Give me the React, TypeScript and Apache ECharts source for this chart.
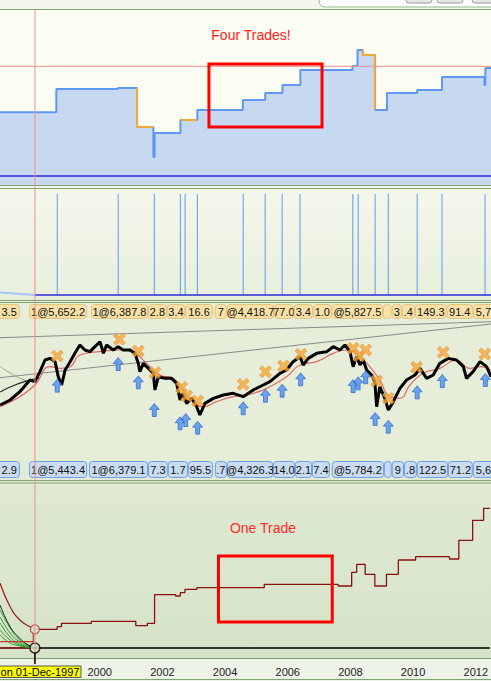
import { useEffect, useRef } from 'react';
import * as echarts from 'echarts';

const X_MIN = 1996.817;
const X_MAX = 2012.45;
const CURSOR_YEAR = 1997.93;
const YEAR_TICKS = [2000, 2002, 2004, 2006, 2008, 2010, 2012];
const FONT = '"Liberation Sans", Arial, sans-serif';
const W = 491;

// Panel 1: equity of the "four trades" system (step line)
const topYears = [1996.817, 1998.61, 2000.57, 2001.18, 2001.70, 2001.74, 2002.56, 2003.10, 2004.55, 2005.26, 2005.81, 2006.38, 2008.04, 2008.20, 2008.37, 2008.76, 2009.14, 2010.10, 2010.89, 2012.24, 2012.27, 2012.45];
const topValues = [72.7, 96, 97, 58, 28, 52, 65, 75, 85, 92, 100, 115, 119, 135, 130, 75, 92, 95, 108, 100, 117, 117];
const orangeSeg1Years = [2001.18, 2001.69];
const orangeSeg1Values = [97, 58];
const orangeSeg2Years = [2002.58, 2003.09];
const orangeSeg2Values = [65, 65];
const orangeSeg3Years = [2008.37, 2008.75, 2008.75];
const orangeSeg3Values = [135, 130, 75];
const topRedLevel = 118.7;
const topBlueLevel = 9;
const topBoxYears = [2003.47, 2007.07];
const topBoxValues = [121, 58];

// Panel 2: trade signal bars
const tradeYears = [1998.64, 2000.58, 2001.73, 2002.56, 2002.71, 2003.10, 2004.56, 2005.26, 2005.80, 2006.37, 2008.05, 2008.22, 2008.76, 2009.18, 2010.10, 2010.89, 2012.26];
const tradeBarHeight = 101;

// Label strips
const orangeLabels = ['3.5', '1@5,652.2', '1@6,387.8', '2.8', '3.4', '16.6', '7', '@4,418.7', '77.0', '3.4', '1.0', '@5,827.5', '', '3', '.4', '149.3', '91.4', '5,7'];
const orangeStarts = [1996.56, 1997.74, 1999.71, 2001.53, 2002.13, 2002.71, 2003.66, 2004.04, 2005.54, 2006.17, 2006.78, 2007.38, 2009.01, 2009.29, 2009.61, 2010.03, 2011.04, 2011.87];
const orangeEnds = [1997.45, 1999.59, 2001.53, 2002.13, 2002.71, 2003.60, 2004.04, 2005.54, 2006.17, 2006.78, 2007.38, 2009.01, 2009.29, 2009.61, 2010.03, 2011.04, 2011.87, 2012.73];
const blueLabels = ['2.9', '1@5,443.4', '1@6,379.1', '7.3', '1.7', '95.5', '.7', '@4,326.3', '14.0', '2.1', '7.4', '@5,784.2', '', '9', '.8', '122.5', '71.2', '5,6'];
const blueStarts = [1996.56, 1997.74, 1999.65, 2001.53, 2002.16, 2002.80, 2003.66, 2004.04, 2005.51, 2006.21, 2006.75, 2007.38, 2009.04, 2009.29, 2009.68, 2010.09, 2011.08, 2011.87];
const blueEnds = [1997.45, 1999.59, 2001.53, 2002.16, 2002.80, 2003.60, 2004.04, 2005.51, 2006.21, 2006.75, 2007.32, 2009.04, 2009.29, 2009.68, 2010.09, 2011.08, 2011.87, 2012.73];

// Panel 3: price
const priceYears = [1996.82, 1997.14, 1997.45, 1997.77, 1997.93, 1998.09, 1998.25, 1998.41, 1998.57, 1998.67, 1998.78, 1998.89, 1999.05, 1999.20, 1999.36, 1999.52, 1999.68, 1999.84, 2000.00, 2000.11, 2000.21, 2000.42, 2000.58, 2000.74, 2000.96, 2001.11, 2001.22, 2001.27, 2001.38, 2001.54, 2001.70, 2001.75, 2001.86, 2002.07, 2002.28, 2002.44, 2002.55, 2002.63, 2002.76, 2002.92, 2003.08, 2003.18, 2003.34, 2003.61, 2003.93, 2004.24, 2004.56, 2004.88, 2005.20, 2005.41, 2005.73, 2005.94, 2006.15, 2006.37, 2006.47, 2006.63, 2006.90, 2007.22, 2007.43, 2007.64, 2007.80, 2007.96, 2008.06, 2008.17, 2008.28, 2008.38, 2008.49, 2008.65, 2008.75, 2008.81, 2008.91, 2009.07, 2009.18, 2009.34, 2009.55, 2009.76, 2010.03, 2010.19, 2010.40, 2010.61, 2010.82, 2011.09, 2011.35, 2011.57, 2011.67, 2011.88, 2012.10, 2012.31, 2012.45];
const priceValues = [3791, 4037, 4446, 5019, 4937, 5428, 6001, 6082, 5919, 5182, 4773, 5510, 5919, 6328, 6737, 6492, 6410, 6655, 6900, 6328, 6737, 6492, 6655, 6492, 6492, 6328, 5837, 5428, 5837, 5591, 5346, 4528, 5182, 5100, 5100, 4855, 4037, 4364, 3873, 4118, 3709, 3300, 3873, 4118, 4282, 4364, 4200, 4528, 4773, 4937, 5346, 5510, 5919, 6164, 5755, 6082, 6328, 6410, 6655, 6492, 6737, 6410, 5673, 6164, 5755, 6001, 5510, 5264, 4937, 3709, 4691, 4118, 3546, 3955, 4609, 5019, 5264, 5591, 5100, 5264, 5837, 6082, 6001, 5673, 5100, 5428, 5919, 5673, 5182];
const maYears = [1996.82, 1997.45, 1997.93, 1998.41, 1998.73, 1999.05, 1999.36, 2000.00, 2000.64, 2001.11, 2001.43, 2001.91, 2002.33, 2002.60, 2002.97, 2003.29, 2003.71, 2004.24, 2004.88, 2005.31, 2005.94, 2006.37, 2006.90, 2007.43, 2007.85, 2008.28, 2008.59, 2008.91, 2009.23, 2009.55, 2009.87, 2010.29, 2010.82, 2011.35, 2011.78, 2012.10, 2012.45];
const maValues = [3709, 4200, 4773, 5673, 5591, 5673, 6246, 6410, 6492, 6328, 5919, 5264, 5100, 4609, 3955, 3709, 3955, 4200, 4364, 4609, 5182, 5755, 5919, 6328, 6492, 6164, 5673, 5019, 4200, 4118, 4773, 5346, 5591, 6001, 5591, 5673, 5510];
const trendUpperYears = [X_MIN, X_MAX];
const trendUpperValues = [7095, 7881];
const trendLowerYears = [X_MIN, X_MAX];
const trendLowerValues = [5131, 7768];
const earlyBlackYears = [1996.82, 1997.29, 1997.77, 1998.09];
const earlyBlackValues = [4429, 4773, 5019, 5117];
const earlyGreenYears = [1996.82, 1997.45, 1997.77];
const earlyGreenValues = [5671, 5102, 4937];
const exitYears = [1998.64, 2000.62, 2001.22, 2001.75, 2002.60, 2002.76, 2003.11, 2004.56, 2005.27, 2005.84, 2006.40, 2008.06, 2008.25, 2008.46, 2008.81, 2009.18, 2010.08, 2010.93, 2012.25];
const exitValues = [6197, 7015, 6442, 5378, 4658, 4233, 3987, 4806, 5428, 5706, 6279, 6573, 6197, 6492, 4969, 4118, 5641, 6377, 6295];
const entryYears = [1998.64, 2000.58, 2001.22, 2001.73, 2002.55, 2002.73, 2003.11, 2004.56, 2005.27, 2005.80, 2006.39, 2008.06, 2008.22, 2008.46, 2008.76, 2009.18, 2010.10, 2010.90, 2012.27];
const entryValues = [4740, 5804, 4904, 3546, 2891, 3055, 2678, 3627, 4249, 4495, 5051, 4724, 4855, 5150, 3104, 2727, 4413, 4969, 5019];

// Panel 4: equity of the "one trade" system
const eqYears = [1997.93, 1998.64, 1998.78, 1999.73, 2001.15, 2001.52, 2001.75, 2002.42, 2002.57, 2002.72, 2003.10, 2005.25, 2007.61, 2008.04, 2008.20, 2008.47, 2008.78, 2009.15, 2009.53, 2010.08, 2011.16, 2011.46, 2011.90, 2012.25, 2012.45];
const eqValues = [18.7, 21.3, 24.7, 26.7, 22.3, 24.7, 53.3, 52, 55.3, 58.7, 60.3, 63.7, 62, 75.7, 83.7, 73.7, 62, 73.7, 88, 91.3, 89, 107.7, 127.7, 139.7, 139.7];
const preYears = [1996.82, 1997.88, 1997.88];
const preValues = [6.3, 6.3, 18.7];
const fanYears = [1996.82, 1997.14, 1997.45, 1997.77, 1997.93];
const fanRed = [64.7, 41.3, 28, 21.3, 19.7];
const fanBlack = [43, 21.3, 9.7, 2, 0];
const fanGreen1 = [38, 20, 8, 2, 0];
const fanGreen2 = [31, 15, 6, 1.5, 0];
const fanGreen3 = [25, 11, 4, 1, 0];
const fanGreen4 = [18, 8, 3, 0.6, 0];
const fanGreen5 = [13, 5, 2, 0.4, 0];
const bottomBoxYears = [2003.79, 2007.42];
const bottomBoxValues = [92, 26];

const zip = (xs: number[], ys: number[]) => xs.map((x, i) => [x, ys[i]]);

const X_PATH = 'path://M0,2.6 L2.6,0 L6,3.4 L9.4,0 L12,2.6 L8.6,6 L12,9.4 L9.4,12 L6,8.6 L2.6,12 L0,9.4 L3.4,6 Z';
const ARROW_PATH = 'path://M5,0 L10,5.5 L7,5.5 L7,12 L3,12 L3,5.5 L0,5.5 Z';

function stripSeries(idx: number, starts: number[], ends: number[], labels: string[], fill: string, stroke: string) {
  return {
    type: 'custom',
    xAxisIndex: idx,
    yAxisIndex: idx,
    silent: true,
    z: 5,
    data: zip(starts, ends),
    encode: { x: [0, 1] },
    renderItem: (params: any, api: any) => {
      const cs = params.coordSys;
      const x0 = api.coord([api.value(0), 0.5])[0];
      const x1 = api.coord([api.value(1), 0.5])[0];
      let align = 'center';
      let tx = (x0 + x1) / 2;
      if (x0 < 0) { align = 'right'; tx = x1 - 3; }
      else if (x1 > W) { align = 'left'; tx = x0 + 3; }
      return {
        type: 'group',
        children: [
          {
            type: 'rect',
            shape: { x: x0 + 0.5, y: cs.y + 0.5, width: Math.max(1, x1 - x0 - 1), height: cs.height - 1, r: 3 },
            style: { fill, stroke, lineWidth: 1 },
          },
          {
            type: 'text',
            style: {
              text: labels[params.dataIndex],
              x: tx,
              y: cs.y + cs.height / 2 + 0.5,
              align,
              verticalAlign: 'middle',
              fill: '#111',
              fontSize: 11,
              fontFamily: FONT,
            },
          },
        ],
      };
    },
  };
}

function lineS(idx: number, data: number[][], color: string, width: number, extra: any = {}) {
  return {
    type: 'line',
    xAxisIndex: idx,
    yAxisIndex: idx,
    data,
    symbol: 'none',
    silent: true,
    lineStyle: { color, width },
    ...extra,
  };
}

export default function App() {
  const ref = useRef<HTMLDivElement>(null);
  useEffect(() => {
    if (!ref.current) return;
    const chart = echarts.init(ref.current, undefined, { renderer: 'svg' });
    const grids = [
      { left: 0, right: 0, top: 10, height: 175 },
      { left: 0, right: 0, top: 189, height: 111 },
      { left: 0, right: 0, top: 304, height: 15 },
      { left: 0, right: 0, top: 320, height: 138 },
      { left: 0, right: 0, top: 461, height: 17 },
      { left: 0, right: 0, top: 483, height: 175 },
    ];
    const yRanges = [
      [0, 175],
      [-5, 106],
      [0, 1],
      [1189, 7965],
      [0, 1],
      [-10, 165],
    ];
    const xAxis = grids.map((_, i) => ({
      type: 'value',
      gridIndex: i,
      min: X_MIN,
      max: X_MAX,
      show: i === 5,
      axisLine: { show: false },
      axisTick: { show: false },
      splitLine: { show: false },
      axisLabel: i === 5
        ? { customValues: YEAR_TICKS, color: '#222', fontSize: 11, fontFamily: FONT, margin: 8, formatter: (v: number) => String(v) }
        : { show: false },
    }));
    const yAxis = yRanges.map((r, i) => ({
      type: 'value',
      gridIndex: i,
      min: r[0],
      max: r[1],
      show: false,
      splitLine: { show: false },
    }));

    const series: any[] = [
      // Panel 1
      lineS(0, zip(topYears, topValues), '#5e98f2', 2, {
        step: 'end',
        areaStyle: { color: '#c6d9f1', opacity: 1 },
      }),
      lineS(0, zip(orangeSeg1Years, orangeSeg1Values), '#f5a83a', 2, { step: 'start' }),
      lineS(0, zip(orangeSeg2Years, orangeSeg2Values), '#f5a83a', 2, { step: 'start' }),
      lineS(0, zip(orangeSeg3Years, orangeSeg3Values), '#f5a83a', 2, { step: 'start' }),
      lineS(0, [[X_MIN, topRedLevel], [X_MAX, topRedLevel]], '#f29088', 1),
      lineS(0, [[X_MIN, topBlueLevel], [X_MAX, topBlueLevel]], '#2b2bdc', 1.5),
      // Panel 2
      {
        type: 'bar',
        xAxisIndex: 1,
        yAxisIndex: 1,
        silent: true,
        barWidth: 1,
        itemStyle: { color: '#5e98f5' },
        data: tradeYears.map((y) => [y, tradeBarHeight]),
      },
      lineS(1, [[X_MIN, 2.5], [CURSOR_YEAR, 0]], '#a8c4f2', 2),
      lineS(1, [[CURSOR_YEAR, 0], [X_MAX, 0]], '#2b2bdc', 1.5),
      // Strips
      stripSeries(2, orangeStarts, orangeEnds, orangeLabels, '#f8e1a6', '#e6c47c'),
      stripSeries(4, blueStarts, blueEnds, blueLabels, '#c9dcf1', '#6f9fe6'),
      // Panel 3
      lineS(3, zip(trendUpperYears, trendUpperValues), '#8a8a8a', 1),
      lineS(3, zip(trendLowerYears, trendLowerValues), '#8a8a8a', 1),
      lineS(3, zip(earlyGreenYears, earlyGreenValues), '#8fb080', 1, { smooth: true }),
      lineS(3, zip(earlyBlackYears, earlyBlackValues), '#222', 1.2, { smooth: true }),
      lineS(3, zip(maYears, maValues), '#e06a6a', 1.2, { smooth: true }),
      lineS(3, zip(priceYears, priceValues), '#000', 3),
      {
        type: 'scatter',
        xAxisIndex: 3,
        yAxisIndex: 3,
        silent: true,
        symbol: X_PATH,
        symbolSize: 12,
        itemStyle: { color: '#f7a437', borderColor: '#dc8418', borderWidth: 0.6 },
        data: zip(exitYears, exitValues),
        z: 6,
      },
      {
        type: 'scatter',
        xAxisIndex: 3,
        yAxisIndex: 3,
        silent: true,
        symbol: ARROW_PATH,
        symbolSize: [10, 13],
        itemStyle: { color: '#4d8ff0', borderColor: '#1f5fc4', borderWidth: 0.8 },
        data: zip(entryYears, entryValues),
        z: 6,
      },
      // Panel 4
      lineS(5, [[X_MIN, 0], [X_MAX, 0]], '#000', 1.3),
      lineS(5, [[X_MIN, 0], [CURSOR_YEAR, 0]], '#9b1c1c', 1.3),
      lineS(5, zip(fanYears, fanGreen5), '#2f9a2f', 1, { smooth: true }),
      lineS(5, zip(fanYears, fanGreen4), '#2f9a2f', 1, { smooth: true }),
      lineS(5, zip(fanYears, fanGreen3), '#2f9a2f', 1, { smooth: true }),
      lineS(5, zip(fanYears, fanGreen2), '#2f9a2f', 1, { smooth: true }),
      lineS(5, zip(fanYears, fanGreen1), '#2f9a2f', 1, { smooth: true }),
      lineS(5, zip(fanYears, fanBlack), '#222', 1, { smooth: true }),
      lineS(5, zip(fanYears, fanRed), '#9b1c1c', 1.2, { smooth: true }),
      lineS(5, zip(preYears, preValues), '#c0392b', 1.2),
      lineS(5, zip(eqYears, eqValues), '#8b1010', 1.3, { step: 'end' }),
      {
        type: 'scatter',
        xAxisIndex: 5,
        yAxisIndex: 5,
        silent: true,
        symbol: 'circle',
        symbolSize: 9,
        itemStyle: { color: '#e2ebd6', borderColor: '#a33', borderWidth: 1.2 },
        data: [[CURSOR_YEAR, eqValues[0]]],
        z: 8,
      },
      {
        type: 'scatter',
        xAxisIndex: 5,
        yAxisIndex: 5,
        silent: true,
        symbol: 'circle',
        symbolSize: 10,
        itemStyle: { color: '#dde7d0', borderColor: '#000', borderWidth: 1.5 },
        data: [[CURSOR_YEAR, 0]],
        z: 8,
      },
    ];

    chart.setOption({
      animation: false,
      backgroundColor: '#eef3e7',
      grid: grids,
      xAxis,
      yAxis,
      series,
    });

    const cx = chart.convertToPixel({ xAxisIndex: 0 }, CURSOR_YEAR) as number;
    const boxRect = (g: number, xs: number[], vs: number[]) => {
      const p0 = chart.convertToPixel({ xAxisIndex: g, yAxisIndex: g }, [xs[0], vs[0]]) as number[];
      const p1 = chart.convertToPixel({ xAxisIndex: g, yAxisIndex: g }, [xs[1], vs[1]]) as number[];
      return {
        type: 'rect', z: 60, silent: true,
        shape: { x: p0[0], y: p0[1], width: p1[0] - p0[0], height: p1[1] - p0[1] },
        style: { fill: 'none', stroke: '#ff0000', lineWidth: 3 },
      };
    };
    const bg = (y: number, h: number, fill: any) => ({ type: 'rect', z: -10, silent: true, shape: { x: 0, y, width: W, height: h }, style: { fill } });
    const grad = (a: string, b: string) => ({ type: 'linear', x: 0, y: 0, x2: 0, y2: 1, colorStops: [{ offset: 0, color: a }, { offset: 1, color: b }] });
    const hline = (y: number) => ({ type: 'line', z: 20, silent: true, shape: { x1: 0, y1: y, x2: W, y2: y }, style: { stroke: '#7ea56f', lineWidth: 1 } });
    const tab = (x: number, w: number) => ({ type: 'rect', z: 20, silent: true, shape: { x, y: -6, width: w, height: 9, r: 3 }, style: { fill: '#e6e8e4', stroke: '#9a9e9a', lineWidth: 1 } });

    chart.setOption({
      graphic: [
        bg(0, 10, '#f3f7ee'),
        { type: 'rect', z: -9, silent: true, shape: { x: 319, y: -12, width: 180, height: 19, r: 6 }, style: { fill: '#ffffff', stroke: '#8fbf7f', lineWidth: 1 } },
        tab(406, 26),
        tab(437, 26),
        tab(472, 30),
        bg(10, 175, '#fbfcf2'),
        bg(185, 4, '#f2f6ea'),
        bg(189, 111, grad('#f4f7eb', '#e8efdc')),
        bg(300, 20, '#e8eedc'),
        bg(320, 141, '#e6eed9'),
        bg(461, 22, '#e2ebd5'),
        bg(483, 175, grad('#dfe9d3', '#d6e3c8')),
        hline(9.5),
        hline(185.5),
        hline(188.5),
        hline(300.5),
        hline(302.5),
        hline(480.5),
        hline(483),
        hline(658.5),
        hline(679.5),
        boxRect(0, topBoxYears, topBoxValues),
        boxRect(5, bottomBoxYears, bottomBoxValues),
        {
          type: 'line', z: 50, silent: true,
          shape: { x1: cx, y1: 10, x2: cx, y2: 661 },
          style: { stroke: '#f0908a', lineWidth: 1 },
        },
        {
          type: 'line', z: 51, silent: true,
          shape: { x1: cx, y1: 652, x2: cx, y2: 664 },
          style: { stroke: '#000', lineWidth: 1.5 },
        },
        {
          type: 'text', z: 60, silent: true,
          style: { text: 'Four Trades!', x: 251, y: 35, align: 'center', verticalAlign: 'middle', fill: '#ff2020', fontSize: 14, fontFamily: FONT },
        },
        {
          type: 'text', z: 60, silent: true,
          style: { text: 'One Trade', x: 263, y: 528, align: 'center', verticalAlign: 'middle', fill: '#ff2a2a', fontSize: 14, fontFamily: FONT },
        },
        {
          type: 'rect', z: 60, silent: true,
          shape: { x: -2, y: 666, width: 83, height: 11.5 },
          style: { fill: '#ffff00', stroke: '#555', lineWidth: 1 },
        },
        {
          type: 'text', z: 61, silent: true,
          style: { text: 'on 01-Dec-1997', x: 40, y: 672, align: 'center', verticalAlign: 'middle', fill: '#000', fontSize: 11, fontFamily: FONT },
        },
      ],
    });

    return () => chart.dispose();
  }, []);
  return <div ref={ref} style={{ position: 'absolute', left: 0, top: 0, width: W, height: 681 }} />;
}
